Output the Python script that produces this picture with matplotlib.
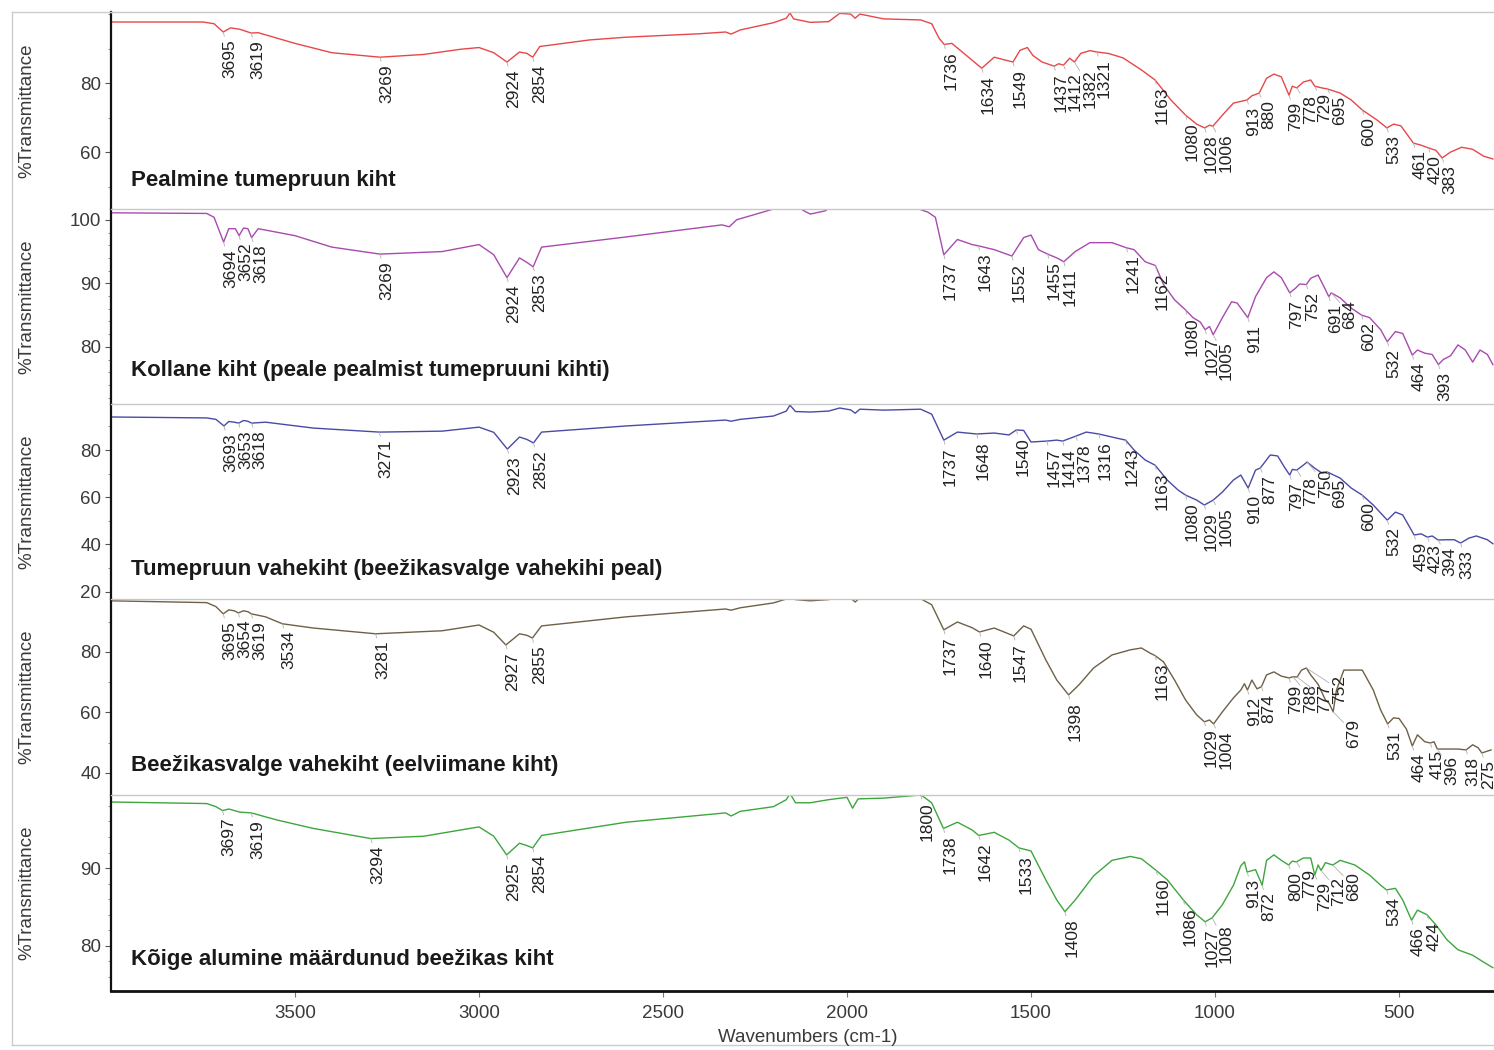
import numpy as np
import matplotlib
matplotlib.use('Agg')
import matplotlib.pyplot as plt
from matplotlib.ticker import MultipleLocator
from matplotlib.lines import Line2D

plt.rcParams['font.family'] = ['Liberation Sans', 'DejaVu Sans']

# ---------------- data ----------------
titles = ["Pealmine tumepruun kiht",
          "Kollane kiht (peale pealmist tumepruuni kihti)",
          "Tumepruun vahekiht (beežikasvalge vahekihi peal)",
          "Beežikasvalge vahekiht (eelviimane kiht)",
          "Kõige alumine määrdunud beežikas kiht"]

wn_red = [4000, 3750, 3720, 3695, 3675, 3650, 3619, 3600, 3500, 3400, 3269, 3150, 3050, 3000, 2960, 2924,
          2890, 2870, 2854, 2835, 2700, 2600, 2400, 2330, 2315, 2290, 2200, 2165, 2155, 2145, 2100, 2050,
          2020, 1990, 1978, 1965, 1900, 1800, 1770, 1750, 1736, 1715, 1634, 1600, 1575, 1549, 1530, 1510,
          1495, 1470, 1437, 1425, 1412, 1395, 1382, 1365, 1340, 1321, 1290, 1250, 1200, 1163, 1120, 1080,
          1050, 1028, 1015, 1006, 980, 950, 913, 900, 880, 860, 840, 820, 805, 799, 790, 778, 760, 740,
          729, 710, 695, 660, 630, 600, 560, 533, 515, 495, 461, 440, 420, 400, 383, 360, 330, 300, 270, 245]
t_red = [97.7, 97.7, 97.2, 94.8, 96.0, 95.6, 94.5, 94.6, 91.5, 88.8, 87.5, 88.3, 89.8, 90.3, 88.8, 86.1,
         89.0, 88.6, 87.5, 90.6, 92.5, 93.3, 94.3, 94.8, 94.2, 95.4, 97.5, 98.8, 100.3, 98.6, 97.6, 97.8,
         100.2, 100.0, 98.8, 100.0, 98.6, 98.3, 97.2, 93.0, 91.2, 91.5, 84.3, 87.5, 86.8, 86.1, 89.5, 90.3,
         88.0, 86.1, 84.9, 85.6, 85.2, 87.2, 86.1, 88.6, 89.4, 89.0, 88.6, 87.3, 83.8, 80.9, 75.1, 70.7,
         68.1, 67.0, 67.8, 67.5, 70.7, 74.2, 75.1, 76.3, 77.1, 81.4, 82.6, 81.8, 78.0, 76.5, 79.1, 78.6, 80.3, 80.9,
         79.1, 78.6, 78.3, 77.1, 75.1, 72.2, 69.3, 67.0, 68.1, 67.6, 62.6, 62.0, 61.2, 60.5, 58.3, 60.0, 61.4, 60.8, 58.8, 58.0]
peaks_red = [3695, 3619, 3269, 2924, 2854, 1736, 1634, 1549, 1437, 1412, 1382, 1321, 1163, 1080, 1028, 1006,
             913, 880, 799, 778, 729, 695, 600, 533, 461, 420, 383]

wn_pur = [4000, 3740, 3720, 3694, 3680, 3662, 3652, 3640, 3628, 3618, 3600, 3500, 3400, 3269, 3100, 3000,
          2960, 2924, 2890, 2870, 2853, 2830, 2600, 2340, 2320, 2300, 2200, 2180, 2150, 2120, 2100, 2060,
          2030, 1900, 1820, 1780, 1760, 1737, 1700, 1660, 1643, 1600, 1552, 1520, 1500, 1480, 1455, 1430,
          1411, 1380, 1340, 1280, 1241, 1220, 1190, 1162, 1140, 1110, 1080, 1060, 1040, 1027, 1015, 1005,
          980, 955, 940, 911, 890, 860, 840, 820, 797, 780, 770, 752, 740, 720, 700, 691, 684, 660, 630,
          602, 580, 550, 532, 510, 490, 464, 450, 430, 410, 393, 380, 360, 340, 320, 300, 280, 260, 245]
t_pur = [101.1, 101.0, 100.4, 96.5, 98.6, 98.6, 97.5, 98.7, 98.6, 97.2, 98.6, 97.5, 95.7, 94.6, 95.0, 96.1,
         94.5, 90.9, 94.0, 93.3, 92.6, 95.7, 97.3, 99.2, 98.9, 100.0, 101.7, 102.6, 103.0, 101.5, 100.9, 101.4,
         102.5, 103.0, 102.0, 101.2, 100.4, 94.5, 96.9, 96.1, 95.9, 95.3, 94.3, 97.2, 97.6, 95.3, 94.6, 94.0,
         93.4, 95.0, 96.4, 96.4, 95.6, 95.3, 93.4, 92.8, 89.8, 87.4, 85.8, 84.6, 83.9, 82.7, 83.2, 81.9,
         84.6, 87.1, 86.9, 84.6, 87.9, 90.9, 91.8, 90.9, 88.5, 89.3, 89.9, 89.8, 90.8, 91.3, 89.0, 87.9, 88.5, 87.7, 86.1,
         85.0, 84.6, 82.7, 80.8, 82.4, 82.1, 78.7, 79.5, 79.0, 78.8, 77.2, 78.0, 78.6, 80.3, 79.5, 77.6, 79.5, 78.8, 77.2]
peaks_pur = [3694, 3652, 3618, 3269, 2924, 2853, 1737, 1643, 1552, 1455, 1411, 1241, 1162, 1080, 1027, 1005,
             911, 797, 752, 691, 684, 602, 532, 464, 393]

wn_blu = [4000, 3740, 3715, 3693, 3680, 3665, 3653, 3640, 3628, 3618, 3580, 3450, 3271, 3100, 3000, 2960,
          2923, 2890, 2870, 2852, 2830, 2600, 2330, 2315, 2290, 2200, 2165, 2155, 2140, 2100, 2050, 2020,
          1990, 1978, 1965, 1900, 1800, 1770, 1737, 1700, 1648, 1600, 1560, 1540, 1520, 1500, 1457, 1430,
          1414, 1378, 1350, 1316, 1280, 1243, 1220, 1190, 1163, 1130, 1100, 1080, 1050, 1029, 1005, 980,
          950, 930, 910, 890, 877, 850, 830, 810, 797, 790, 778, 760, 750, 730, 710, 695, 660, 630, 600,
          570, 532, 510, 490, 459, 440, 423, 410, 394, 370, 350, 333, 310, 290, 260, 245]
t_blu = [94.0, 93.6, 93.0, 90.2, 92.1, 91.8, 91.4, 92.5, 92.2, 91.4, 91.8, 89.3, 87.6, 88.0, 89.7, 87.5,
         80.4, 85.5, 84.5, 83.0, 87.6, 90.2, 92.7, 92.2, 93.0, 94.4, 96.5, 99.0, 96.3, 96.1, 96.5, 97.8,
         97.0, 95.6, 97.3, 96.9, 97.3, 95.2, 84.2, 87.6, 86.8, 87.2, 86.4, 88.5, 88.3, 83.4, 83.8, 84.2,
         83.8, 85.9, 87.6, 86.8, 85.5, 84.2, 80.0, 75.8, 73.6, 67.3, 63.0, 60.9, 58.8, 56.7, 58.8, 62.2,
         67.3, 69.4, 63.9, 71.5, 72.4, 77.9, 77.5, 72.4, 69.4, 71.8, 71.5, 73.6, 74.9, 72.4, 70.3, 70.7, 68.1, 63.9, 60.9,
         56.7, 50.3, 53.7, 52.5, 44.0, 44.5, 43.1, 43.6, 41.9, 42.0, 42.0, 40.6, 42.7, 43.6, 42.0, 40.3]
peaks_blu = [3693, 3653, 3618, 3271, 2923, 2852, 1737, 1648, 1540, 1457, 1414, 1378, 1316, 1243, 1163, 1080,
             1029, 1005, 910, 877, 797, 778, 750, 695, 600, 532, 459, 423, 394, 333]

wn_brn = [4000, 3740, 3715, 3695, 3680, 3665, 3654, 3640, 3628, 3619, 3580, 3534, 3450, 3281, 3100, 3000,
          2960, 2927, 2890, 2870, 2855, 2830, 2600, 2330, 2315, 2290, 2200, 2165, 2155, 2140, 2100, 2050,
          2020, 1990, 1978, 1965, 1900, 1800, 1770, 1737, 1700, 1660, 1640, 1600, 1547, 1520, 1500, 1460,
          1430, 1398, 1370, 1330, 1280, 1230, 1200, 1175, 1163, 1140, 1110, 1080, 1050, 1029, 1015, 1004,
          980, 950, 930, 920, 912, 900, 886, 874, 860, 840, 820, 799, 788, 777, 765, 752, 740, 720, 700,
          690, 679, 670, 650, 600, 570, 550, 531, 515, 500, 480, 464, 450, 430, 415, 405, 396, 370, 340,
          318, 300, 285, 275, 250]
t_brn = [96.9, 96.3, 95.0, 92.6, 93.9, 93.6, 92.9, 93.6, 93.3, 92.6, 91.6, 89.3, 87.9, 86.0, 87.0, 88.9,
         86.5, 82.3, 86.0, 85.5, 84.6, 88.6, 91.6, 94.2, 93.8, 94.6, 96.2, 97.5, 99.0, 97.3, 96.9, 97.3,
         98.2, 97.8, 96.5, 97.9, 97.5, 97.6, 95.6, 87.3, 89.9, 88.0, 86.6, 87.9, 85.3, 88.6, 87.5, 77.4,
         70.7, 65.8, 69.1, 74.7, 79.0, 80.7, 81.3, 79.5, 78.8, 76.7, 70.7, 64.1, 59.2, 56.9, 57.5, 56.2,
         60.2, 64.8, 67.4, 69.5, 67.4, 70.7, 67.8, 68.5, 72.4, 73.4, 72.0, 71.4, 71.8, 71.7, 74.0, 74.7, 72.4, 69.3, 64.1,
         63.0, 60.2, 67.4, 74.0, 74.0, 67.4, 60.8, 56.2, 58.2, 58.0, 54.5, 48.9, 52.6, 50.3, 49.9, 50.3, 47.9, 47.9, 47.9,
         47.6, 49.3, 48.3, 46.6, 47.6]
peaks_brn = [3695, 3654, 3619, 3534, 3281, 2927, 2855, 1737, 1640, 1547, 1398, 1163, 1029, 1004, 912, 874,
             799, 788, 777, 752, 679, 531, 464, 415, 396, 318, 275]

wn_grn = [4000, 3740, 3715, 3697, 3680, 3650, 3619, 3550, 3450, 3294, 3150, 3000, 2960, 2925, 2890, 2870,
          2854, 2830, 2600, 2330, 2315, 2290, 2200, 2165, 2155, 2140, 2100, 2050, 2000, 1985, 1970, 1900,
          1800, 1790, 1770, 1738, 1700, 1660, 1642, 1600, 1560, 1533, 1500, 1460, 1430, 1408, 1380, 1330,
          1280, 1230, 1200, 1160, 1130, 1086, 1050, 1027, 1008, 980, 950, 930, 920, 913, 890, 872, 860,
          840, 820, 800, 790, 779, 760, 740, 729, 720, 712, 700, 680, 660, 620, 580, 550, 534, 510, 490,
          466, 450, 424, 400, 370, 340, 300, 270, 245]
t_grn = [98.5, 98.3, 97.9, 97.4, 97.6, 97.2, 97.1, 96.2, 95.1, 93.8, 94.1, 95.3, 94.1, 91.7, 93.2, 92.9,
         92.6, 94.2, 95.9, 97.1, 96.7, 97.3, 97.9, 98.8, 99.6, 98.4, 98.4, 98.8, 99.1, 97.7, 98.9, 99.0,
         99.4, 99.1, 98.4, 95.1, 95.9, 94.9, 94.2, 94.6, 93.6, 92.6, 92.2, 88.5, 85.9, 84.4, 85.9, 89.0,
         91.0, 91.5, 91.2, 89.7, 88.5, 85.9, 84.0, 83.1, 83.6, 85.3, 87.8, 90.3, 90.8, 89.5, 89.8, 87.8, 91.0,
         91.7, 91.0, 90.4, 90.9, 90.8, 91.3, 91.3, 89.1, 90.4, 89.7, 90.7, 90.4, 91.0, 90.4, 89.1, 87.8, 87.2, 87.4, 85.9,
         83.3, 84.6, 84.0, 82.7, 80.8, 79.5, 78.8, 77.9, 77.2]
peaks_grn = [3697, 3619, 3294, 2925, 2854, 1800, 1738, 1642, 1533, 1408, 1160, 1086, 1027, 1008, 913, 872,
             800, 779, 729, 712, 680, 534, 466, 424]

x_ticks = [3500, 3000, 2500, 2000, 1500, 1000, 500]
y_ticks = [[60, 80], [80, 90, 100], [20, 40, 60, 80], [40, 60, 80], [80, 90]]

# ---------------- layout / style ----------------
colors = ['#e8474a', '#a84aae', '#4a4aa6', '#6f6048', '#3ea63e']
ylims = [(43.5, 100.6), (71.0, 101.7), (16.9, 99.5), (32.7, 97.5), (74.2, 99.4)]
yminor = [10, 2, 10, 10, 2]
bounds = [(12, 209), (209, 404), (404, 599), (599, 795), (795, 991)]
title_y = [180, 370, 570, 765, 960]
XMIN, XMAX = 4000, 242

series = [(wn_red, t_red, peaks_red), (wn_pur, t_pur, peaks_pur), (wn_blu, t_blu, peaks_blu),
          (wn_brn, t_brn, peaks_brn), (wn_grn, t_grn, peaks_grn)]

W, H = 1494, 1050
fig = plt.figure(figsize=(W / 100, H / 100), dpi=100)
left_px = 111
ax_w_px = W - left_px
LABEL_GAP = 14.5  # px between neighbouring peak labels

for i, ((wn, t, peaks), (yt, yb)) in enumerate(zip(series, bounds)):
    ax = fig.add_axes([left_px / W, 1 - yb / H, 1 - left_px / W, (yb - yt) / H])
    ax.set_facecolor('none')
    ax.plot(wn, t, color=colors[i], lw=1.0)
    ax.set_xlim(XMIN, XMAX)
    ax.set_ylim(*ylims[i])
    ax.set_yticks(y_ticks[i])
    ax.yaxis.set_minor_locator(MultipleLocator(yminor[i]))
    ax.tick_params(axis='y', which='major', length=4, width=0.8, color='#555555',
                   labelsize=13.5, labelcolor='#3a3a3a', pad=3)
    ax.tick_params(axis='y', which='minor', length=2.5, width=0.6, color='#777777')
    ax.spines['right'].set_visible(False)
    ax.spines['left'].set_color('#111111')
    ax.spines['left'].set_linewidth(1.6)
    ax.spines['top'].set_color('#c8c8c8')
    ax.spines['top'].set_linewidth(1.0)
    if i < 4:
        ax.spines['bottom'].set_visible(False)
        ax.tick_params(axis='x', bottom=False, labelbottom=False)
    else:
        ax.spines['bottom'].set_color('#111111')
        ax.spines['bottom'].set_linewidth(2.0)
        ax.set_xticks(x_ticks)
        ax.tick_params(axis='x', length=4, width=0.8, color='#777777', labelsize=13.5,
                       labelcolor='#3a3a3a', pad=6)

    wn_arr = np.array(wn)[::-1]
    t_arr = np.array(t)[::-1]
    # spread labels horizontally so neighbours do not collide
    pk = sorted(peaks, reverse=True)
    px = [(XMIN - p) / (XMIN - XMAX) * ax_w_px for p in pk]
    placed = []
    for x in px:
        if placed and x < placed[-1] + LABEL_GAP:
            x = placed[-1] + LABEL_GAP
        placed.append(x)
    for p, x0, x1 in zip(pk, px, placed):
        tp = np.interp(p, wn_arr, t_arr)
        dx_pt = (x1 - x0) * 72 / 100
        ax.annotate(str(p), xy=(p, tp), xytext=(dx_pt - 0.5, -5), textcoords='offset points',
                    rotation=90, ha='left', va='top', fontsize=12.5, color='#222222',
                    arrowprops=dict(arrowstyle='-', color='#b0b0b0', lw=0.6,
                                    shrinkA=0, shrinkB=0))

    fig.text(131 / W, 1 - title_y[i] / H, titles[i], fontsize=16, fontweight='bold',
             color='#1a1a1a', ha='left', va='center')
    fig.text(27 / W, 1 - (yt + yb) / 2 / H, '%Transmittance', rotation=90,
             fontsize=13.5, color='#3a3a3a', ha='center', va='center')

fig.text(808 / W, 1 - 1038 / H, 'Wavenumbers (cm-1)', fontsize=13.5, color='#3a3a3a',
         ha='center', va='center')

# outer light frame
fig.add_artist(Line2D([12 / W, 12 / W], [1 - 12 / H, 1 - 1045 / H], color='#cccccc', lw=1.0))
fig.add_artist(Line2D([12 / W, 1.0], [1 - 1045 / H, 1 - 1045 / H], color='#cccccc', lw=1.0))
fig.add_artist(Line2D([12 / W, left_px / W], [1 - 12 / H, 1 - 12 / H], color='#cccccc', lw=1.0))

fig.savefig('out.png', dpi=100)
